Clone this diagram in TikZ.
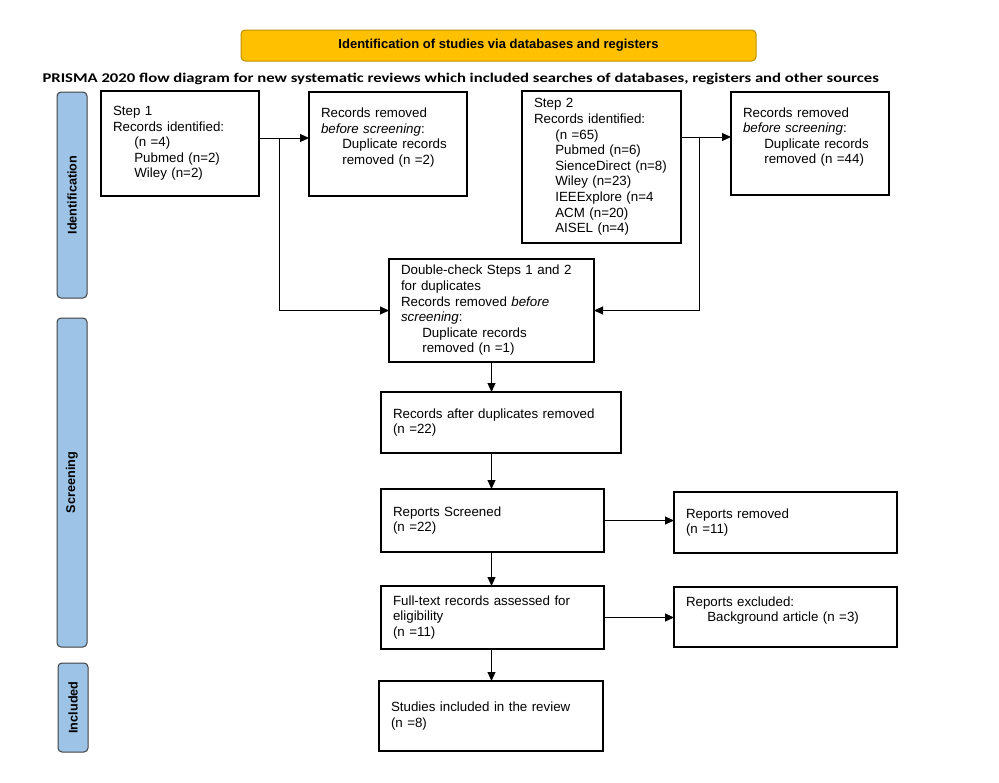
\documentclass[tikz,border=0pt]{standalone}
\usepackage{fontspec}
\usepackage{tikz}
\usetikzlibrary{arrows.meta}
\setmainfont{Liberation Sans}
\newfontfamily\calibri{Carlito}[FakeStretch=1.25]
\definecolor{barblue}{HTML}{9DC3E6}
\definecolor{banner}{HTML}{FFC000}
\definecolor{bannerline}{HTML}{BF9000}
\tikzstyle{box} = [draw, line width=1.5pt, rectangle, anchor=north west, align=left, inner xsep=9pt, inner ysep=0pt, outer sep=0pt, font=\fontsize{10pt}{11.7pt}\selectfont]
\tikzstyle{stage} = [draw=black!75, fill=barblue, rounded corners=3pt, rotate=90, minimum height=22.5pt, inner sep=0pt, font=\bfseries\fontsize{9.5pt}{11pt}\selectfont]
\tikzstyle{header} = [draw=bannerline, fill=banner, rounded corners=3pt, minimum width=386.25pt, minimum height=23.25pt, inner sep=0pt, font=\bfseries\fontsize{9.75pt}{11pt}\selectfont]
\newcommand{\ind}{\hspace*{16pt}}

\begin{document}
\begin{tikzpicture}[x=0.75pt, y=-0.75pt, >={Triangle[length=6.75pt,width=6pt]}, line width=0.75pt]
		\useasboundingbox (0,0) rectangle (999,782);
		% header and title
		\node [header] (banner) at (498.5,45.5) {Identification of studies via databases and registers};
		\node [anchor=base west, inner sep=0pt, font=\calibri\bfseries\fontsize{10pt}{12pt}\selectfont] (title) at (42,82) {PRISMA 2020 flow diagram for new systematic reviews which included searches of databases, registers and other sources};
		% stages
		\node [stage, minimum width=154.5pt] (identification) at (72,195) {Identification};
		\node [stage, minimum width=246.75pt] (screening) at (72,482.5) {Screening};
		\node [stage, minimum width=66.75pt] (included) at (73,707.5) {Included};
		% identification
		\node [box, text width=100.5pt, minimum height=78.75pt] (step1) at (101,91) {Step 1\\Records identified:\\\ind(n =4)\\\ind Pubmed (n=2)\\\ind Wiley (n=2)};
		\node [box, text width=100.5pt, minimum height=78pt] (rem1) at (309,92) {Records removed\\\textit{before screening}:\\\ind Duplicate records\\\ind removed (n =2)\\\mbox{}};
		\node [box, text width=101.25pt, minimum height=114pt] (step2) at (522,91) {Step 2\\Records identified:\\\ind(n =65)\\\ind Pubmed (n=6)\\\ind SienceDirect (n=8)\\\ind Wiley (n=23)\\\ind IEEExplore (n=4\\\ind ACM (n=20)\\\ind AISEL (n=4)};
		\node [box, text width=100.5pt, minimum height=77.25pt] (rem2) at (731,92) {Records removed\\\textit{before screening}:\\\ind Duplicate records\\\ind removed (n =44)\\\mbox{}};
		\node [box, text width=135.75pt, minimum height=77.25pt] (dup) at (389,259) {Double-check Steps 1 and 2\\for duplicates\\Records removed \textit{before}\\\textit{screening}:\\\ind Duplicate records\\\ind removed (n =1)};
		% screening
		\node [box, text width=162pt, minimum height=45.75pt] (after) at (381,392) {Records after duplicates removed\\(n =22)};
		\node [box, text width=149.25pt, minimum height=47.25pt] (screen) at (381,489) {Reports Screened\\(n =22)};
		\node [box, text width=149.25pt, minimum height=45.75pt] (remrep) at (674,492) {Reports removed\\(n =11)};
		\node [box, text width=149.25pt, minimum height=47.25pt] (fulltext) at (381,586) {Full-text records assessed for\\eligibility\\(n =11)};
		\node [box, text width=149.25pt, minimum height=45pt] (excl) at (674,587) {Reports excluded:\\\ind Background article (n =3)\\\mbox{}};
		% included
		\node [box, text width=150pt, minimum height=52.5pt] (studies) at (379,681) {Studies included in the review\\(n =8)};
		\coordinate (split1) at (279,138);
		\coordinate (split2) at (699,137);

		\draw [->] (step1.east |- split1) -- (rem1.west |- split1);
		\draw [->] (split1) |- (dup.west);
		\draw [->] (step2.east |- split2) -- (rem2.west |- split2);
		\draw [->] (split2) |- (dup.east);
		\draw [->] (dup) -- (dup |- after.north);
		\draw [->] (after.south -| dup) -- (dup |- screen.north);
		\draw [->] (screen.south -| dup) -- (dup |- fulltext.north);
		\draw [->] (fulltext.south -| dup) -- (dup |- studies.north);
		\draw [->] (screen.east) -- (screen.east -| remrep.west);
		\draw [->] (fulltext.east) -- (fulltext.east -| excl.west);
	\end{tikzpicture}
\end{document}
